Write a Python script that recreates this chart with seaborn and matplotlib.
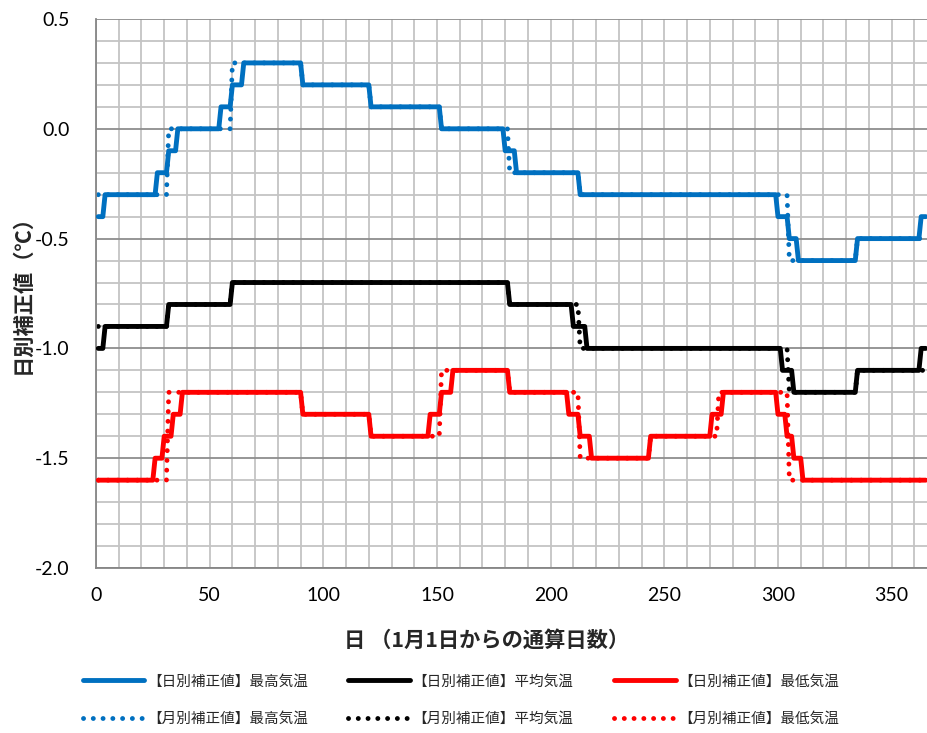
import numpy as np
import pandas as pd
import matplotlib
matplotlib.use("Agg")
import matplotlib.pyplot as plt
import seaborn as sns
from matplotlib.font_manager import FontProperties

# ---- data -------------------------------------------------------------
month_days = [31, 28, 31, 30, 31, 30, 31, 31, 30, 31, 30, 31]

# monthly correction values (°C), Jan..Dec
max_monthly = [-0.3, 0.0, 0.3, 0.2, 0.1, 0.0, -0.2, -0.3, -0.3, -0.3, -0.6, -0.5]
mean_monthly = [-0.9, -0.8, -0.7, -0.7, -0.7, -0.7, -0.8, -1.0, -1.0, -1.0, -1.2, -1.1]
min_monthly = [-1.6, -1.2, -1.2, -1.3, -1.4, -1.1, -1.2, -1.5, -1.4, -1.2, -1.6, -1.6]

# daily correction values: first day of each constant run and its value
max_daily_start = [1, 4, 27, 32, 36, 55, 60, 65, 91, 121, 152, 180, 185, 213,
                   300, 305, 309, 335, 363]
max_daily_value = [-0.4, -0.3, -0.2, -0.1, 0.0, 0.1, 0.2, 0.3, 0.2, 0.1, 0.0,
                   -0.1, -0.2, -0.3, -0.4, -0.5, -0.6, -0.5, -0.4]

mean_daily_start = [1, 4, 32, 60, 182, 210, 216, 302, 307, 335, 363]
mean_daily_value = [-1.0, -0.9, -0.8, -0.7, -0.8, -0.9, -1.0, -1.1, -1.2, -1.1, -1.0]

min_daily_start = [1, 26, 30, 34, 38, 91, 121, 147, 152, 157, 182, 208, 213,
                   218, 244, 271, 276, 300, 304, 307, 311]
min_daily_value = [-1.6, -1.5, -1.4, -1.3, -1.2, -1.3, -1.4, -1.3, -1.2, -1.1,
                   -1.2, -1.3, -1.4, -1.5, -1.4, -1.3, -1.2, -1.3, -1.4, -1.5, -1.6]

x_ticks = [0, 50, 100, 150, 200, 250, 300, 350]
y_ticks = [-2.0, -1.5, -1.0, -0.5, 0.0, 0.5]

labels_daily = ["【日別補正値】最高気温", "【日別補正値】平均気温", "【日別補正値】最低気温"]
labels_monthly = ["【月別補正値】最高気温", "【月別補正値】平均気温", "【月別補正値】最低気温"]
colors = ["#0070C0", "#000000", "#FF0000"]

# ---- expand runs to one value per day ---------------------------------
days = np.arange(1, 366)


def runs_to_days(starts, values):
    lengths = np.diff(list(starts) + [366])
    return np.repeat(values, lengths)


def months_to_days(values):
    return np.repeat(values, month_days)


daily = [runs_to_days(max_daily_start, max_daily_value),
         runs_to_days(mean_daily_start, mean_daily_value),
         runs_to_days(min_daily_start, min_daily_value)]
monthly = [months_to_days(max_monthly),
           months_to_days(mean_monthly),
           months_to_days(min_monthly)]

# ---- style ------------------------------------------------------------
sns.set_style("white")
plt.rcParams["font.family"] = ["Lato", "Noto Sans CJK JP", "DejaVu Sans"]
plt.rcParams["axes.unicode_minus"] = False

W, H = 928, 733
fig = plt.figure(figsize=(W / 100, H / 100), dpi=100)
ax = fig.add_axes([96 / W, 1 - 568 / H, (W - 96) / W, (568 - 19) / H])

lw = 3.5
handles = {}
for i in range(3):
    df_m = pd.DataFrame({"day": days, "value": monthly[i]})
    sns.lineplot(data=df_m, x="day", y="value", ax=ax, color=colors[i],
                 lw=lw, linestyle=(0, (0.01, 2.0)), dash_capstyle="round",
                 estimator=None, sort=False, zorder=2)
    handles[labels_monthly[i]] = ax.lines[-1]
for i in range(3):
    df_d = pd.DataFrame({"day": days, "value": daily[i]})
    sns.lineplot(data=df_d, x="day", y="value", ax=ax, color=colors[i],
                 lw=lw, solid_capstyle="round", solid_joinstyle="round",
                 estimator=None, sort=False, zorder=3)
    handles[labels_daily[i]] = ax.lines[-1]

# ---- axes -------------------------------------------------------------
ax.set_xlim(0, 366)
ax.set_ylim(-2.0, 0.5)
ax.set_xticks(x_ticks)
ax.set_xticks(np.arange(0, 366, 10), minor=True)
ax.set_yticks(y_ticks)
ax.set_yticks(np.round(np.arange(-2.0, 0.51, 0.1), 1), minor=True)
ax.set_yticklabels([f"{v:.1f}" for v in y_ticks])
ax.set_xticklabels([str(v) for v in x_ticks])
ax.set_xlabel("")
ax.set_ylabel("")

ax.set_axisbelow(True)
ax.grid(which="minor", axis="both", color="#C4C4C4", lw=1.3)
ax.grid(which="major", axis="x", color="#C4C4C4", lw=1.3)
ax.grid(which="major", axis="y", color="#8E8E8E", lw=1.3)

for side in ("top", "right"):
    ax.spines[side].set_visible(False)
for side in ("left", "bottom"):
    ax.spines[side].set_color("#868686")
    ax.spines[side].set_linewidth(1.3)

ax.tick_params(axis="y", which="major", length=5, width=1.1, color="#868686",
               pad=14, labelsize=14, labelcolor="black")
ax.tick_params(axis="x", which="major", length=4, width=1.1, color="#868686",
               pad=10, labelsize=14, labelcolor="black")
ax.tick_params(which="minor", length=0)

cjk = ["Noto Sans CJK JP", "DejaVu Sans"]
fig.text(487 / W, 1 - 640 / H, "日 （1月1日からの通算日数）", ha="center", va="center",
         fontsize=15.3, fontweight="bold", family=cjk)
fig.text(22 / W, 1 - 289 / H, "日別補正値（℃）", ha="center", va="center",
         rotation=90, fontsize=15.3, fontweight="bold", family=cjk)

order = [labels_daily[0], labels_monthly[0], labels_daily[1], labels_monthly[1],
         labels_daily[2], labels_monthly[2]]
fig.legend([handles[k] for k in order], order, ncol=3, loc="center",
           bbox_to_anchor=(461 / W, 1 - 700 / H), frameon=False,
           handlelength=4.2, handletextpad=0.2, columnspacing=2.8,
           labelspacing=1.6, prop=FontProperties(family=cjk, size=10.5))

fig.savefig("out.png", dpi=100)
